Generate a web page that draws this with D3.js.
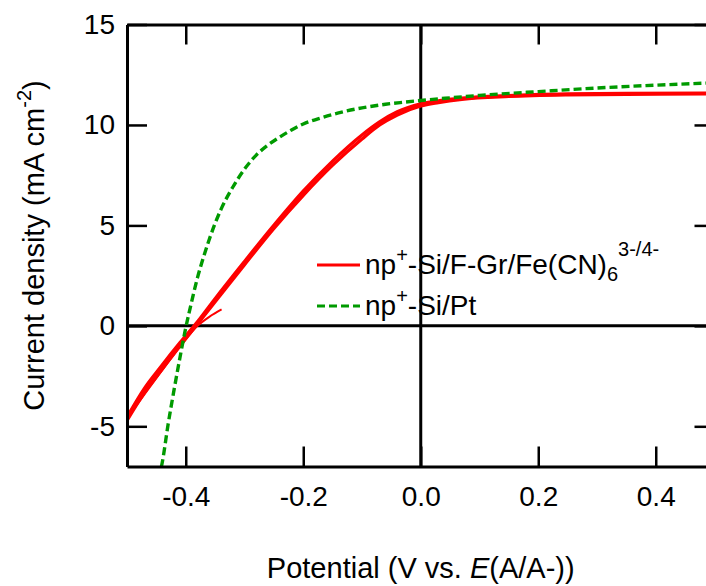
<!DOCTYPE html>
<html>
<head>
<meta charset="utf-8">
<script src="https://cdn.jsdelivr.net/npm/d3@7"></script>
<style>
  html, body { margin: 0; padding: 0; background: #fff; }
  svg { display: block; font-family: "Liberation Sans", Arial, Helvetica, sans-serif; }
</style>
</head>
<body>
<svg id="chart" width="706" height="586"></svg>
<script>
// Photocurrent–potential curves
const xTicks = [-0.4, -0.2, 0.0, 0.2, 0.4];
const yTicks = [-5, 0, 5, 10, 15];

// np+-Si/Pt (dashed green)
const ptPotential = [-0.446, -0.44, -0.43, -0.42, -0.41, -0.40, -0.39, -0.38, -0.37, -0.36, -0.35, -0.34, -0.32, -0.30, -0.28, -0.26, -0.24, -0.22, -0.20, -0.17, -0.14, -0.10, -0.06, -0.03, 0.0, 0.05, 0.10, 0.20, 0.30, 0.40, 0.50];
const ptCurrent   = [-7.6, -6.8, -4.9, -3.2, -1.6, -0.1, 1.2, 2.4, 3.4, 4.3, 5.1, 5.8, 6.9, 7.8, 8.5, 9.0, 9.4, 9.75, 10.05, 10.35, 10.6, 10.85, 11.03, 11.13, 11.22, 11.35, 11.47, 11.66, 11.84, 11.98, 12.1];

// np+-Si/F-Gr/Fe(CN)6 3-/4- (red), anodic sweep
const grUpPotential = [-0.5, -0.47, -0.44, -0.41, -0.38, -0.35, -0.30, -0.25, -0.20, -0.15, -0.10, -0.07, -0.04, 0.0, 0.03, 0.07, 0.15, 0.25, 0.35, 0.485, 0.5];
const grUpCurrent   = [-4.55, -3.1, -1.95, -0.85, 0.2, 1.35, 3.2, 5.0, 6.7, 8.2, 9.5, 10.15, 10.65, 11.05, 11.2, 11.33, 11.46, 11.54, 11.57, 11.58, 11.58];
// cathodic sweep
const grDownPotential = [0.5, 0.485, 0.35, 0.25, 0.15, 0.07, 0.03, 0.0, -0.04, -0.07, -0.10, -0.15, -0.20, -0.25, -0.30, -0.35, -0.38, -0.41, -0.44, -0.47, -0.5];
const grDownCurrent   = [11.55, 11.55, 11.53, 11.5, 11.42, 11.28, 11.12, 10.95, 10.5, 10.0, 9.3, 8.0, 6.5, 4.85, 3.05, 1.2, 0.1, -1.0, -2.15, -3.3, -4.7];
// final partial sweep
const grTailPotential = [-0.5, -0.47, -0.44, -0.41, -0.38, -0.36, -0.339];
const grTailCurrent   = [-4.6, -3.4, -2.2, -1.05, 0.0, 0.45, 0.82];

const svg = d3.select("#chart");
const plotLeft = 127, plotRight = 714.5, plotTop = 24.5, plotBottom = 466.5;

const x = d3.scaleLinear().domain([-0.5, 0.5]).range([plotLeft, plotRight]);
const y = d3.scaleLinear().domain([-7, 15]).range([plotBottom, plotTop]);

const red = "#ff0000", green = "#009a00";
const fontSize = 28, titleSize = 29;

svg.append("defs").append("clipPath").attr("id", "plot")
  .append("rect").attr("x", plotLeft).attr("y", plotTop)
  .attr("width", plotRight - plotLeft).attr("height", plotBottom - plotTop);

// zero lines
svg.append("line").attr("x1", x(0)).attr("x2", x(0)).attr("y1", plotTop).attr("y2", plotBottom)
  .attr("stroke", "#000").attr("stroke-width", 3);
svg.append("line").attr("x1", plotLeft).attr("x2", plotRight).attr("y1", y(0)).attr("y2", y(0))
  .attr("stroke", "#000").attr("stroke-width", 3);

// curves
const zip = (a, b) => a.map((v, i) => [v, b[i]]);
const line = d3.line().x(d => x(d[0])).y(d => y(d[1])).curve(d3.curveMonotoneX);
const curves = svg.append("g").attr("clip-path", "url(#plot)");

curves.append("path").datum(zip(grDownPotential, grDownCurrent).reverse())
  .attr("d", line).attr("fill", "none").attr("stroke", red).attr("stroke-width", 3.4);
curves.append("path").datum(zip(grUpPotential, grUpCurrent))
  .attr("d", line).attr("fill", "none").attr("stroke", red).attr("stroke-width", 3.4);
curves.append("path").datum(zip(grTailPotential, grTailCurrent))
  .attr("d", line).attr("fill", "none").attr("stroke", red).attr("stroke-width", 2);
curves.append("path").datum(zip(ptPotential, ptCurrent))
  .attr("d", line).attr("fill", "none").attr("stroke", green).attr("stroke-width", 3.4)
  .attr("stroke-dasharray", "8,4");

// axes
function styleAxis(g, showLabels) {
  g.select(".domain").attr("stroke", "#000").attr("stroke-width", 3);
  g.selectAll(".tick line").attr("stroke", "#000").attr("stroke-width", 2.5);
  g.selectAll(".tick text").attr("fill", "#000").style("font-size", fontSize + "px")
    .style("font-family", "'Liberation Sans', Arial, sans-serif")
    .style("display", showLabels ? null : "none");
}

const gx = svg.append("g").attr("transform", `translate(0,${plotBottom})`)
  .call(d3.axisBottom(x).tickValues(xTicks).tickSizeInner(-20).tickSizeOuter(0)
    .tickPadding(20).tickFormat(d => d.toFixed(1)));
styleAxis(gx, true);
gx.selectAll(".tick text").attr("dy", "0.71em");

const gxt = svg.append("g").attr("transform", `translate(0,${plotTop})`)
  .call(d3.axisTop(x).tickValues(xTicks).tickSizeInner(-20).tickSizeOuter(0));
styleAxis(gxt, false);

const gy = svg.append("g").attr("transform", `translate(${plotLeft},0)`)
  .call(d3.axisLeft(y).tickValues(yTicks).tickSizeInner(-20).tickSizeOuter(0)
    .tickPadding(12).tickFormat(d => String(d)));
styleAxis(gy, true);

const gyr = svg.append("g").attr("transform", `translate(${plotRight},0)`)
  .call(d3.axisRight(y).tickValues(yTicks).tickSizeInner(-20).tickSizeOuter(0));
styleAxis(gyr, false);

// axis titles
const xt = svg.append("text").attr("x", x(0)).attr("y", 578)
  .attr("text-anchor", "middle").style("font-size", titleSize + "px");
xt.append("tspan").text("Potential (V vs. ");
xt.append("tspan").attr("font-style", "italic").text("E");
xt.append("tspan").text("(A/A-))");

const yt = svg.append("text")
  .attr("transform", `translate(44,${(plotTop + plotBottom) / 2}) rotate(-90)`)
  .attr("text-anchor", "middle").style("font-size", titleSize + "px");
yt.append("tspan").text("Current density (mA cm");
yt.append("tspan").attr("dy", -13).style("font-size", "20px").text("-2");
yt.append("tspan").attr("dy", 13).text(")");

// legend
const legend = svg.append("g");
legend.append("line").attr("x1", 317).attr("x2", 360).attr("y1", 265).attr("y2", 265)
  .attr("stroke", red).attr("stroke-width", 3);
const l1 = legend.append("text").attr("x", 365).attr("y", 274).style("font-size", fontSize + "px");
l1.append("tspan").text("np");
l1.append("tspan").attr("dy", -12).style("font-size", "20px").text("+");
l1.append("tspan").attr("dy", 12).text("-Si/F-Gr/Fe(CN)");
l1.append("tspan").attr("dy", 7).style("font-size", "20px").text("6");
l1.append("tspan").attr("dy", -25).style("font-size", "20px").text("3-/4-");

legend.append("line").attr("x1", 317).attr("x2", 360).attr("y1", 306).attr("y2", 306)
  .attr("stroke", green).attr("stroke-width", 3).attr("stroke-dasharray", "8,4");
const l2 = legend.append("text").attr("x", 365).attr("y", 315).style("font-size", fontSize + "px");
l2.append("tspan").text("np");
l2.append("tspan").attr("dy", -12).style("font-size", "20px").text("+");
l2.append("tspan").attr("dy", 12).text("-Si/Pt");
</script>
</body>
</html>
